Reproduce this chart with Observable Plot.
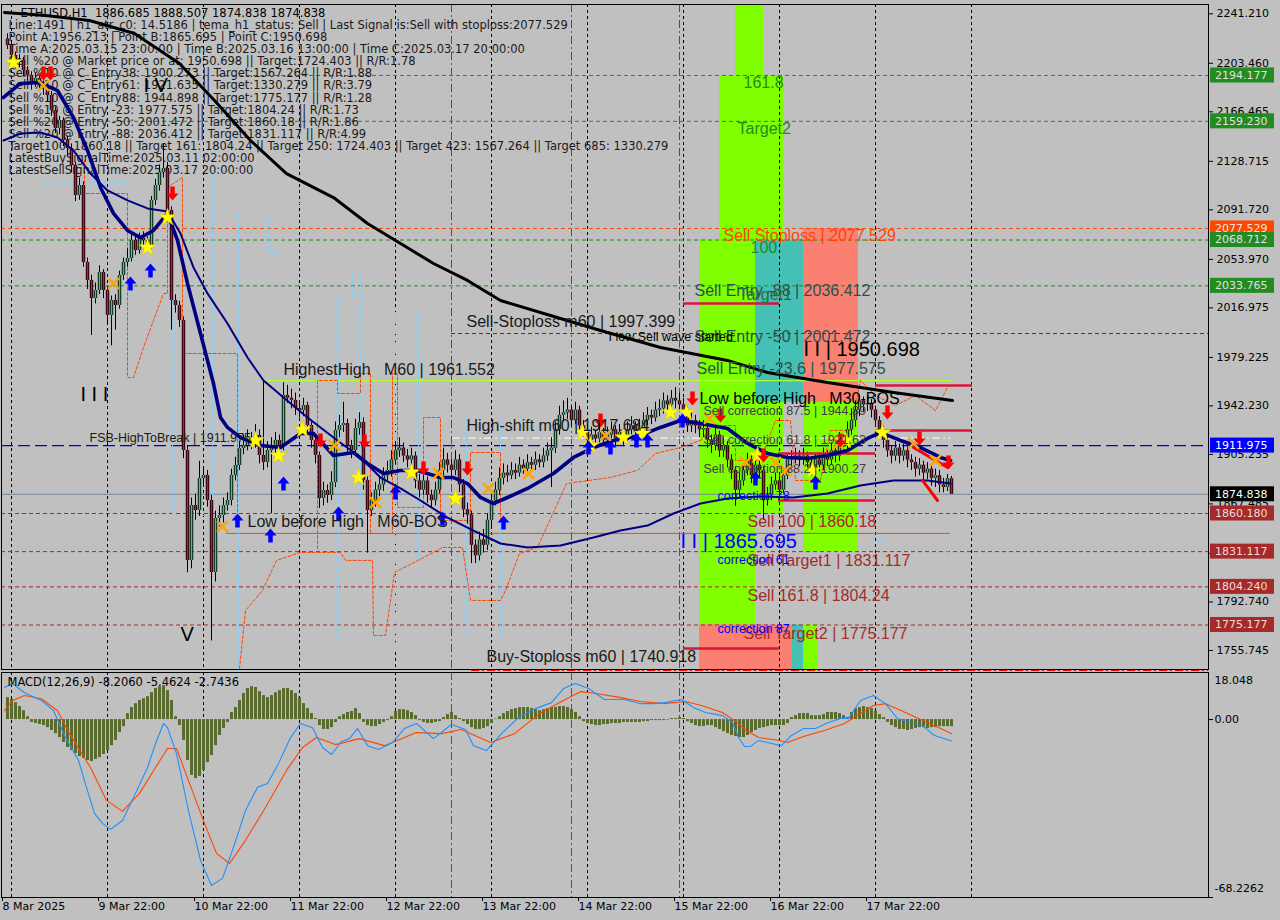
<!DOCTYPE html>
<html><head><meta charset="utf-8">
<script src="https://cdn.jsdelivr.net/npm/d3@7"></script>
<script src="https://cdn.jsdelivr.net/npm/@observablehq/plot@0.6"></script>
<style>
html,body{margin:0;padding:0;background:#c0c0c0;width:1280px;height:920px;overflow:hidden}
#chart svg{display:block;background:transparent}
</style></head><body><div id="chart"></div>
<script>
// ---------------- DATA ----------------
const firstOpen = 2222;
const closes = [
2217.0,2209.4,2204.1,2205.6,2198.0,2194.2,2188.8,2191.9,2186.5,2184.3,
2178.9,2167.5,2153.7,2159.9,2144.6,2138.5,2125.5,2102.7,2110.3,2051.6,
2037.9,2024.1,2030.2,2044.0,2030.2,2011.2,2022.6,2018.8,2041.7,2051.6,
2054.6,2068.4,2060.7,2069.9,2068.4,2064.5,2098.9,2110.3,2120.2,2123.2,
2091.2,2022.6,2018.8,2007.4,1908.2,1824.4,1866.3,1862.5,1886.9,1889.2,
1870.1,1815.2,1856.4,1858.7,1866.3,1870.1,1889.2,1896.8,1909.7,1912.0,
1915.9,1914.3,1919.7,1904.4,1899.1,1908.2,1909.7,1915.9,1912.0,1950.2,
1948.0,1946.4,1940.3,1938.7,1942.5,1927.3,1915.9,1904.4,1871.6,1877.7,
1873.9,1883.8,1923.5,1927.3,1928.8,1912.0,1908.2,1925.0,1929.6,1885.4,
1862.5,1870,1878,1882,1889,1893,1901,1908,1910,1904,
1901,1904,1885,1878,1885,1874,1870,1878,1893,1901,
1897,1893,1901,1882,1863,1859,1836,1828,1840,1836,
1855,1870,1878,1887,1891,1889,1893,1891,1897,1894,
1899,1897,1901,1899,1904,1908,1910,1924,1935,1937,
1939,1931,1939,1927,1924,1916,1920,1917,1922,1916,
1920,1924,1917,1922,1916,1924,1927,1922,1925,1931,
1935,1933,1939,1940,1946,1943,1948,1946,1943,1939,
1927,1931,1927,1924,1925,1916,1912,1920,1908,1912,
1901,1893,1878,1885,1893,1901,1889,1897,1893,1870,
1874,1882,1885,1878,1889,1901,1902,1904,1901,1904,
1899,1894,1901,1897,1904,1901,1908,1904,1916,1912,
1924,1931,1939,1946,1943,1944,1939,1931,1924,1916,
1908,1904,1910,1904,1908,1901,1899,1894,1897,1891,
1894,1887,1889,1882,1880,1886.685,1874.838];
const highs = [
2226,2220,2212,2210,2208,2201,2197,2196,2195,2190,
2188,2182,2170,2163,2162,2148,2142,2128,2116,2113,
2055,2042,2036,2049,2046,2033,2026,2027,2045,2055,
2062,2075,2072,2074,2075,2071,2102,2115,2126,2142,
2128,2094,2027,2022,2010,1912,1872,1875,1900,1896,
1893,1874,1862,1866,1872,1876,1894,1903,1915,1920,
1924,1922,1928,1924,1961.5,1915,1918,1922,1920,1960,
1958,1955,1952,1946,1948,1945,1930,1919,1907,1884,
1882,1892,1930,1935,1945,1932,1916,1932,1937,1933,
1888,1876,1884,1888,1895,1900,1908,1915,1918,1914,
1909,1910,1907,1890,1891,1888,1878,1884,1899,1910,
1906,1901,1908,1905,1886,1868,1862,1840,1846,1848,
1860,1875,1884,1895,1898,1897,1899,1898,1903,1901,
1905,1903,1907,1905,1910,1914,1918,1930,1942,1946,
1948,1942,1945,1942,1931,1927,1926,1924,1928,1925,
1926,1930,1927,1928,1925,1930,1934,1930,1932,1937,
1941,1939,1945,1947,1952,1950,1954,1956.2,1952,1948,
1942,1937,1935,1931,1931,1929,1920,1926,1923,1918,
1915,1905,1896,1891,1898,1906,1904,1902,1900,1896,
1880,1888,1891,1889,1895,1906,1908,1910,1908,1910,
1907,1902,1906,1905,1910,1908,1914,1912,1922,1920,
1930,1940,1946,1950.7,1949,1950,1947,1942,1934,1927,
1920,1912,1915,1913,1913,1911,1905,1903,1902,1900,
1899,1897,1894,1893,1887,1890,1888.507];
const lows = [
2214,2205,2199,2200,2193,2190,2183,2185,2182,2179,
2174,2163,2150,2149,2140,2133,2120,2098,2099,2048,
2031,1996,2020,2027,2024,2004,1988,2000,2016,2038,
2048,2052,2057,2058,2063,2060,2062,2095,2106,2116,
2086,2000,2013,2002,1902,1815,1818,1855,1858,1880,
1865,1763,1808,1850,1853,1862,1866,1885,1893,1905,
1908,1909,1910,1898,1893,1895,1860,1905,1906,1908,
1944,1940,1935,1933,1934,1920,1910,1898,1864,1866,
1868,1870,1880,1918,1922,1906,1902,1905,1920,1878,
1830,1858,1865,1873,1877,1885,1888,1897,1903,1899,
1895,1896,1879,1872,1874,1868,1864,1866,1875,1889,
1891,1887,1889,1876,1857,1852,1822,1822,1824,1830,
1832,1850,1866,1874,1882,1884,1886,1886,1888,1890,
1891,1893,1893,1895,1895,1900,1880,1906,1920,1930,
1932,1926,1928,1922,1918,1911,1912,1912,1914,1911,
1913,1917,1912,1914,1911,1913,1920,1917,1918,1921,
1927,1928,1930,1934,1936,1938,1939,1940,1938,1934,
1922,1922,1921,1918,1918,1910,1906,1908,1903,1903,
1895,1886,1865.7,1872,1881,1889,1883,1885,1888,1855,
1866,1870,1878,1873,1875,1886,1896,1898,1896,1897,
1894,1889,1890,1892,1893,1896,1897,1899,1900,1906,
1908,1920,1926,1934,1937,1938,1933,1926,1918,1910,
1903,1898,1900,1898,1900,1895,1893,1888,1889,1885,
1886,1881,1880,1876,1876,1877,1874.838];

// moving averages: [bar, price]
const maSlow = [[-0.75,2242.2],[9.5,2239.9],[20.5,2236.1],[31.75,2226.2],[43,2203.3],[51.75,2175.1],[60.75,2144.6],[69.75,2119.4],[81.5,2101.1],[90,2081.3],[98.25,2066.1],[106.5,2050.8],[115,2037.9],[123.25,2022.6],[135.75,2011.2],[148.25,1999.7],[163.25,1986.8],[180,1976.9],[190,1967.7],[205,1960.1],[221.5,1952.4],[236.25,1946.4]];
const maFast = [[-1,2177.4],[3.25,2188.1],[8.25,2188.8],[12.5,2182.7],[16.5,2162.1],[20,2137.0],[23.25,2108.8],[26.5,2089.0],[30,2076.0],[33.25,2070.6],[36.5,2076.0],[40,2089.0],[42.5,2068.4],[45,2035.6],[48.25,1997.4],[51.5,1959.3],[53.25,1933.4],[55,1925.8],[58.25,1918.1],[63.25,1912.0],[68.25,1910.5],[73.25,1921.2],[76.5,1921.2],[81.5,1904.4],[86.5,1906.7],[90,1898.3],[94,1890.7],[98.25,1893.0],[102.5,1893.0],[108.25,1887.6],[111.5,1887.6],[115,1883.0],[118.25,1872.4],[121.5,1867.8],[125,1872.4],[130,1879.3],[136.5,1890.7],[141.5,1902.9],[146.5,1910.5],[151.5,1915.9],[158.25,1919.7],[163.25,1925.8],[168.25,1931.1],[173.25,1928.8],[180,1925.0],[185,1913.6],[190,1906.0],[195,1902.9],[200,1902.1],[205,1904.4],[210,1908.2],[215,1917.4],[218.25,1921.9],[223.25,1915.9],[228.25,1910.5],[233.25,1902.9],[235.75,1900.6]];
const maMid = [[-1,2144.6],[3.25,2149.9],[8.25,2150.7],[12.5,2146.9],[16.5,2137.0],[20.75,2119.4],[25,2106.5],[30,2098.9],[35,2092.8],[40,2090.5],[43.25,2073.7],[46.5,2047.8],[50,2028.0],[55,2005.1],[60,1979.1],[64,1961.6],[69,1948.6],[75,1933.4],[81.5,1918.1],[88.25,1902.9],[93.25,1887.6],[98.25,1879.3],[103.25,1870.1],[110,1857.1],[116.5,1847.2],[123.25,1837.3],[130,1834.3],[138.25,1835.8],[146.5,1841.9],[153.25,1847.2],[160,1851.0],[166.5,1860.2],[173.25,1867.8],[180,1871.6],[188.25,1873.2],[196.5,1872.4],[205,1875.4],[213.25,1881.5],[221.5,1885.4],[230,1885.4],[235.75,1883.0]];

// stepped dashed indicator lines
const orangePaths = [
 [[19.25,2129.4],[19.25,2104.2],[30,2104.2],[30,1963.9],[31.5,1963.9],[34,1986.8],[36.5,2007.4],[39,2027.9],[40,2027.9],[40,2108.8],[43.75,2116.4],[43.75,1982.2],[57.5,1982.2],[57.5,1854.9]],
 [[58,1742.0],[59.5,1786.2],[63.75,1801.5],[67.25,1824.4],[73.25,1830.5],[83.25,1830.5],[84.5,1824.4],[91.25,1824.4],[91.5,1767.2],[94.5,1767.2],[96.75,1815.2],[104,1826.6],[108.75,1834.3],[113.75,1834.3],[115.75,1793.9],[123.25,1793.9],[124.5,1801.5],[128,1829.7],[132.5,1834.3],[139.75,1883.0],[150.5,1887.6],[157.5,1893.0],[162,1905.9],[168.25,1910.5],[173.25,1915.9]],
 [[77.5,1833.5],[77.5,1961.6],[82.5,1961.6],[82.5,1951.7],[88.25,1951.7],[88.25,1967.0],[90.75,1967.0],[90.75,1844.9],[96.25,1844.9],[96.25,1967.0],[97.5,1967.0],[97.5,1864.8],[104,1864.8],[104,1933.4],[108.25,1933.4],[108.25,1854.9],[115.75,1854.9],[115.75,1906.7],[123.25,1906.7],[123.25,1854.9]],
 [[173.25,1915.9],[176.25,1927.3],[182,1927.3],[182,1900.6],[188.25,1900.6],[192,1931.1],[195.75,1931.1],[197,1885.4],[203.25,1885.4],[205.75,1923.5],[210.75,1923.5],[213.25,1961.6],[217,1950.2],[222,1942.5],[227,1950.2],[232,1938.7],[235.25,1957.8]]
];
const bluePaths = [
 [[9,2104.2],[9,2112.6],[30,2112.6],[30,2124.0]],
 [[41.25,2077.5],[41.25,1858.7],[51.25,1858.7],[51.25,2124.0]],
 [[57.75,1742.0],[57.75,2088.9],[65.25,2088.9],[65.25,2059.2],[68.5,2059.2],[68.5,2096.6],[77,2096.6],[77,1854.9]],
 [[82.75,1763.4],[82.75,2024.9],[86.25,2024.9],[86.25,2043.2],[88.25,2043.2],[88.25,1854.9]],
 [[97,1755.7],[97,2017.3],[102.75,2017.3],[102.75,1824.4]],
 [[114.75,1931.1],[114.75,1765.6],[123.25,1765.6],[123.25,1931.1]],
 [[216.5,1997.4],[216.5,1839.6],[220,1839.6]],
 [[227.5,1857.1],[235,1857.1],[235,1814.4],[227.5,1814.4]]
];

// zones: [bar1, bar2, price1, price2, color]
const zones = [
 [182,189,2194.177,2260,"#7FFF00"],
 [178,194,2068.712,2194.177,"#7FFF00"],
 [173,187,1775.177,2068.712,"#7FFF00"],
 [187,199,1944.898,2068.712,"#45C0B5"],
 [199,212.75,1944.898,2077.529,"#FA8072"],
 [187,194,1860.18,1944.898,"#7FFF00"],
 [199,212.75,1831.117,1944.898,"#7FFF00"],
 [173,196.25,1740.918,1775.177,"#FA8072"],
 [196.25,199,1740.918,1775.177,"#45C0B5"],
 [199,202.75,1740.918,1775.177,"#7FFF00"]
];

// horizontal levels: [price, fromBar, toBar, color, dash, width]
const levels = [
 [2194.177,null,null,"#228B22","4,3",1],
 [2159.230,null,null,"#228B22","4,3",1],
 [2068.712,null,null,"#228B22","4,3",1],
 [2033.765,null,null,"#228B22","4,3",1],
 [2077.529,null,null,"#FF4500","4,3",1],
 [1997.399,111,300.25,"#C00000","4,3",1],
 [1860.18,null,null,"#A52A2A","4,3",1],
 [1831.117,null,null,"#A52A2A","4,3",1],
 [1804.24,null,null,"#A52A2A","4,3",1],
 [1775.177,null,null,"#A52A2A","4,3",1],
 [1911.975,null,null,"#0000CD","12,5",1.3],
 [1874.838,null,null,"#778899",null,1],
 [1917.684,111.25,235.75,"#FFFFFF","8,3,2,3",1],
 [1961.552,64,236,"#ADFF2F",null,1.2],
 [1845.0,54.75,235.75,"#FF4500",null,1],
 [1740.918,116,300.25,"#FF0000","8,3,2,3",2]
];
const redSegments = [[2020.3,169,193],[1957.8,217,241.25],[1923.5,217,241.25],[1906.0,192.75,217],[1870.1,192.75,217],[1757.2,169,193]];
const trendSegments = [[[226.5,1910.5],[235,1895.3]],[[228.75,1885.4],[232.5,1870.1]]];

// signal markers [bar, price]
const stars = [[1.5,2204.1],[35,2063.0],[40,2085.9],[62,1915.9],[67.75,1904.4],[73.75,1924.2],[87.75,1887.6],[101,1891.5],[112,1871.6],[143.75,1922],[145.75,1912],[154,1918.1],[158.75,1921.2],[165.75,1937.2],[169.75,1937.2],[187.5,1904.4],[201.25,1893.0],[209.5,1915.9],[218.75,1921.9]];
const downArrows = [[9,2195.7],[10.75,2195.7],[41.25,2104.2],[78.25,1915.9],[89.25,1915.1],[104,1894.5],[115,1894.5],[148.25,1931.1],[171.25,1947.9],[178.25,1934.9],[189,1904.4],[208.25,1915.9],[220,1937.2],[228,1917.4],[235.25,1899.1]];
const upArrows = [[30.75,2035.6],[35.75,2045.5],[57.5,1854.9],[65.75,1843.4],[69,1883.0],[82.75,1860.2],[97,1876.2],[108.75,1856.4],[124,1853.3],[145.25,1910.5],[150.75,1910.5],[157.25,1915.9],[160,1915.9],[168.75,1931.1],[187,1886.9],[202,1883.8]];
const crosses = [[9,2186.5],[26.5,2035.6],[53.75,1850.3],[81.75,1912.0],[92,1868.6],[107.75,1890.7],[120.25,1879.2],[130.25,1890.7],[149.5,1919.7],[175.5,1932.6],[184.5,1899.1],[192,1899.1],[194.5,1893.0],[207.75,1913.6],[226.5,1913.6],[232,1900.6]];

// chart labels [bar, price, text, color]
const labels16 = [
 [69,1970.0,"HighestHigh   M60 | 1961.552","#1a1a1a"],
 [114.75,2006.6,"Sell-Stoploss m60 | 1997.399","#1a1a1a"],
 [114.75,1927.3,"High-shift m60 | 1917.684","#1a1a1a"],
 [60,1854.1,"Low before High   M60-BOS","#1a1a1a"],
 [173,1947.9,"Low before High   M30-BOS","#000000"],
 [119.75,1751.1,"Buy-Stoploss m60 | 1740.918","#1a1a1a"],
 [171.75,2030.2,"Sell Entry -88 | 2036.412","#2F4F4F"],
 [182.75,2027.2,"Target1","#2E6B3A"],
 [171.75,1995.1,"Sell Entry -50 | 2001.472","#2F4F4F"],
 [172.25,1970.8,"Sell Entry -23.6 | 1977.575","#2F4F4F"],
 [179,2072.2,"Sell Stoploss | 2077.529","#FF4500"],
 [185.75,2063.0,"100","#228B22"],
 [184,2188.8,"161.8","#228B22"],
 [182.5,2153.7,"Target2","#228B22"],
 [185,1854.1,"Sell 100 | 1860.18","#A52A2A"],
 [185,1824.4,"Sell Target1 | 1831.117","#A52A2A"],
 [185,1797.7,"Sell 161.8 | 1804.24","#A52A2A"],
 [184,1768.7,"Sell Target2 | 1775.177","#A52A2A"]
];
const labels12 = [
 [20.5,1917.4,"FSB-HighToBreak | 1911.975","#1a1a1a"],
 [174,1938.7,"Sell correction 87.5 | 1944.89","#404040"],
 [174,1915.9,"Sell correction 61.8 | 1921.63","#404040"],
 [174,1894.5,"Sell correction 38.2 | 1900.27","#404040"],
 [177.5,1873.2,"correction 78","#0000FF"],
 [177.5,1824.4,"correction 61","#0000FF"],
 [177.5,1772.5,"correction 87","#0000FF"],
 [150.25,1994.4,"I low Sell wave started","#000000"]
];
const labels20 = [
 [199,1985.2,"I I | 1950.698","#000000"],
 [168.25,1838.8,"I I | 1865.695","#0000FF"],
 [18.25,1950.9,"I I I","#000000"],
 [43.25,1767.9,"V","#000000"],
 [34,2186.5,"I V","#000000"]
];

const title = "ETHUSD,H1  1886.685 1888.507 1874.838 1874.838";
const infoLines = [
 "Line:1491 | h1_atr_c0: 14.5186 | tema_h1_status: Sell | Last Signal is:Sell with stoploss:2077.529",
 "Point A:1956.213 | Point B:1865.695 | Point C:1950.698",
 "Time A:2025.03.15 23:00:00 | Time B:2025.03.16 13:00:00 | Time C:2025.03.17 20:00:00",
 "Sell %20 @ Market price or at: 1950.698 || Target:1724.403 || R/R:1.78",
 "Sell %10 @ C_Entry38: 1900.273 || Target:1567.264 || R/R:1.88",
 "Sell %10 @ C_Entry61: 1921.635 || Target:1330.279 || R/R:3.79",
 "Sell %10 @ C_Entry88: 1944.898 || Target:1775.177 || R/R:1.28",
 "Sell %10 @ Entry -23: 1977.575 || Target:1804.24 || R/R:1.73",
 "Sell %20 @ Entry -50: 2001.472 || Target:1860.18 || R/R:1.86",
 "Sell %20 @ Entry -88: 2036.412 || Target:1831.117 || R/R:4.99",
 "Target100: 1860.18 || Target 161: 1804.24 || Target 250: 1724.403 || Target 423: 1567.264 || Target 685: 1330.279",
 "LatestBuySignalTime:2025.03.11 02:00:00",
 "LatestSellSignalTime:2025.03.17 20:00:00"
];

// axes
const priceRange = [1741.24, 2248.30];
const priceTicks = [2241.210,2203.460,2166.465,2128.715,2091.720,2053.970,2016.975,1979.225,1942.230,1905.235,1867.485,1829.740,1792.740,1755.745];
const priceBoxes = [
 [2194.177,"#228B22","#E0E0E0"],[2159.230,"#228B22","#E0E0E0"],[2077.529,"#FF4500","#F4E4DC"],
 [2068.712,"#228B22","#E0E0E0"],[2033.765,"#228B22","#E0E0E0"],[1911.975,"#0000FF","#FFFFFF"],
 [1874.838,"#000000","#FFFFFF"],[1860.180,"#A52A2A","#F2DADA"],[1831.117,"#A52A2A","#F2DADA"],
 [1804.240,"#A52A2A","#F2DADA"],[1775.177,"#A52A2A","#F2DADA"]
];
const barDomain = [-1.5, 300.25];
const gridBars = [1,25,49,73,97,121,145,169,193,217,241];
const magentaBars = [111,141,168];
const cyanBars = [51];
const dateBars = [-1.25,22.75,46.75,70.75,94.75,118.75,142.75,166.75,190.75,214.75];
const dateLabels = ["8 Mar 2025","9 Mar 22:00","10 Mar 22:00","11 Mar 22:00","12 Mar 22:00","13 Mar 22:00","14 Mar 22:00","15 Mar 22:00","16 Mar 22:00","17 Mar 22:00"];

// MACD
const macdTitle = "MACD(12,26,9) -8.2060 -5.4624 -2.7436";
const macdRange = [-68.2262, 18.048];
const macdHist = [
8.4,7.7,6.5,5.0,3.4,1.1,-1.1,-1.5,-1.9,-2.3,
-3.1,-4.2,-5.4,-6.9,-8.8,-10.7,-11.9,-13.0,-14.2,-14.9,
-15.7,-16.1,-15.3,-14.6,-13.4,-11.9,-10.0,-8.0,-5.0,-2.7,
2.3,4.6,6.1,7.3,8.0,8.8,10.3,11.9,12.6,13.0,
11.1,7.3,1.1,-2.3,-8.0,-15.7,-21.4,-22.6,-21.8,-19.5,
-16.5,-13.8,-10.0,-6.1,-3.4,-1.1,2.7,4.6,7.3,10.0,
11.9,12.6,12.3,10.7,9.2,8.4,9.2,10.3,11.1,11.9,
11.9,11.1,10.0,8.4,6.1,4.2,2.3,0.4,-2.3,-3.8,
-3.8,-3.1,-1.1,1.1,1.9,2.7,3.1,4.2,2.3,-1.1,
-2.3,-2.7,-2.7,-1.9,-1.1,-0.4,1.1,3.1,3.8,3.8,
3.4,2.7,1.5,-0.4,-1.1,-1.5,-1.5,-1.1,-0.8,0.8,
1.9,2.7,1.5,0.4,-0.8,-1.9,-3.1,-3.8,-3.8,-3.4,
-2.7,-1.5,0.2,1.1,2.3,3.1,3.8,4.2,4.6,4.6,
4.6,4.2,3.8,3.4,3.8,4.2,4.6,4.6,5.0,5.0,
4.6,3.8,2.7,1.1,-0.8,-1.5,-1.9,-2.3,-2.3,-1.9,
-1.9,-1.5,-1.5,-1.5,-1.1,-1.1,-1.1,-1.1,-1.1,-0.8,
-0.8,-0.4,-0.4,-0.4,-0.4,-0.2,0.4,0.4,0.8,0.4,
-0.8,-1.5,-2.3,-2.7,-2.7,-2.3,-2.3,-3.1,-3.8,-4.6,
-5.4,-6.1,-6.5,-6.9,-6.9,-6.1,-5.0,-4.2,-3.4,-3.1,
-2.7,-2.3,-2.3,-2.3,-2.3,-1.5,0.8,1.5,2.3,2.3,
2.3,1.5,1.5,1.5,1.9,2.7,2.7,2.7,2.3,1.5,
0.8,2.7,4.2,4.6,5.0,4.6,4.2,3.1,1.9,0.8,
-1.1,-2.3,-3.1,-3.8,-3.8,-4.2,-3.8,-3.4,-3.1,-3.1,
-3.4,-3.1,-3.1,-2.7,-2.7,-2.7,-2.7436];
const macdLine = [[-0.75,12.3],[1.25,13.8],[4.25,10.3],[8.5,7.3],[11.5,3.4],[14.5,-6.9],[17.75,-15.7],[19.75,-26.0],[21.75,-36.0],[23.75,-39.8],[25.75,-42.1],[28.75,-38.7],[32,-28.3],[35,-18.4],[37,-9.2],[39,-1.5],[40,-3.1],[42.25,-13.0],[45.25,-34.9],[48.25,-54.0],[51,-63.6],[53.75,-60.9],[56.5,-49.0],[59.5,-34.9],[62.5,-26.0],[65,-24.5],[67.75,-16.9],[70.75,-6.9],[73.25,-1.5],[76.25,-3.1],[78.75,-10.7],[81,-13.4],[83.5,-8.4],[85.5,-7.3],[87.5,-3.4],[90,-10.0],[92.75,-11.5],[96.25,-8.8],[99.25,-3.4],[102.25,-1.5],[106.5,-7.3],[111,-1.9],[114.5,-3.8],[116.5,-10.0],[119.75,-11.9],[123.75,-5.0],[127.75,0.8],[132,4.2],[136,6.5],[139,11.9],[142,13.8],[145.25,11.9],[149.25,7.7],[154.25,7.7],[158.25,6.1],[161.25,6.1],[164.25,6.5],[168.5,7.7],[171.5,4.6],[174.5,2.7],[178.75,1.5],[181.25,-1.1],[182.75,-6.9],[184.25,-10.3],[185.75,-10.3],[187.75,-8.0],[191,-9.2],[193.5,-10.0],[196,-6.1],[199,-3.4],[202,-3.4],[205.25,-1.1],[208.25,0.4],[210.25,0.4],[213.25,7.3],[216.5,9.2],[219.5,6.1],[222.5,0.4],[225.5,-1.1],[228.75,-2.3],[231.75,-6.1],[236,-8.206]];
const signalLine = [[-0.75,3.4],[1.25,7.3],[4.25,9.2],[8.5,8.0],[12.5,3.4],[15.5,-5.4],[20.75,-18.4],[24.75,-31.0],[28.75,-35.2],[33,-28.3],[37,-18.4],[40,-11.1],[42.25,-11.1],[45.25,-23.4],[49.25,-39.8],[52.25,-51.3],[55.5,-55.2],[59.5,-46.3],[64.5,-33.7],[69.75,-19.5],[73.75,-10.7],[77.25,-6.9],[82,-9.6],[88,-7.3],[94.25,-10.0],[102.25,-5.0],[108.5,-5.4],[113.5,-3.8],[120.75,-8.8],[126.75,-5.4],[133,2.3],[139,7.3],[143.25,10.7],[147.25,10.0],[153.25,8.4],[158.25,6.9],[164.25,6.1],[169.5,6.9],[173.5,5.4],[178.75,2.7],[181.75,-0.4],[184.75,-4.2],[187.75,-6.9],[193,-8.0],[195,-8.8],[199,-6.5],[204.25,-4.2],[209.25,-1.5],[213.25,2.3],[216.5,5.4],[219.5,6.1],[223.5,3.4],[227.75,0.4],[231.75,-2.3],[236,-5.4624]];

// ---------------- BUILD ----------------
const DJ = "DejaVu Sans, sans-serif";
const LS = "Liberation Sans, Arial, sans-serif";
const bars = closes.map((c, i) => ({i, o: i === 0 ? firstOpen : closes[i - 1], h: highs[i], l: lows[i], c}));
const hist = macdHist.map((v, i) => ({i, v}));
const px = d => d[0], py = d => d[1];

const arrowDown = {draw(ctx, size) { const r = Math.sqrt(size / Math.PI);
  ctx.moveTo(-0.32*r, -r); ctx.lineTo(0.32*r, -r); ctx.lineTo(0.32*r, 0); ctx.lineTo(0.85*r, 0);
  ctx.lineTo(0, r); ctx.lineTo(-0.85*r, 0); ctx.lineTo(-0.32*r, 0); ctx.closePath(); }};
const arrowUp = {draw(ctx, size) { const r = Math.sqrt(size / Math.PI);
  ctx.moveTo(-0.32*r, r); ctx.lineTo(0.32*r, r); ctx.lineTo(0.32*r, 0); ctx.lineTo(0.85*r, 0);
  ctx.lineTo(0, -r); ctx.lineTo(-0.85*r, 0); ctx.lineTo(-0.32*r, 0); ctx.closePath(); }};

const pathRows = (paths) => paths.flatMap((p, k) => p.map(pt => ({k, x: pt[0], y: pt[1]})));

const levelMarks = levels.map(([p, a, b, c, dash, w]) =>
  Plot.ruleY([p], a == null ? {stroke: c, strokeDasharray: dash, strokeWidth: w}
                            : {x1: a, x2: b, stroke: c, strokeDasharray: dash, strokeWidth: w}));

const textMark = (rows, size, font) => Plot.text(rows, {x: d => d[0], y: d => d[1], text: d => d[2], fill: d => d[3],
  textAnchor: "start", fontFamily: font, fontSize: size});

const main = Plot.plot({
  width: 1280, height: 670,
  marginLeft: 1, marginRight: 72, marginTop: 4, marginBottom: 1,
  style: {background: "transparent", fontFamily: DJ, fontSize: "11px", color: "#000", overflow: "visible"},
  x: {domain: barDomain, axis: null},
  y: {domain: priceRange, axis: "right", ticks: priceTicks, tickSize: 4, tickPadding: 4, tickFormat: d => d.toFixed(3), label: null},
  color: {type: "identity"},
  marks: [
    Plot.rect(zones, {x1: d => d[0], x2: d => d[1], y1: d => d[2], y2: d => d[3], fill: d => d[4], clip: true}),
    Plot.ruleX(gridBars, {stroke: "#000", strokeDasharray: "3,3", strokeWidth: 1}),
    Plot.ruleX(magentaBars, {stroke: "#C8107A", strokeDasharray: "8,3,2,3", strokeWidth: 1}),
    Plot.ruleX(cyanBars, {stroke: "#87CEFA", strokeDasharray: "8,3,2,3", strokeWidth: 1}),
    ...levelMarks,
    Plot.line(pathRows(bluePaths), {x: "x", y: "y", z: "k", stroke: "#87CEFA", strokeDasharray: "5,2,1,2", strokeWidth: 1, clip: true}),
    Plot.line(pathRows(orangePaths), {x: "x", y: "y", z: "k", stroke: "#FF4500", strokeDasharray: "3,2", strokeWidth: 1, clip: true}),
    Plot.text([title], {frameAnchor: "top-left", dx: 19, dy: 4, lineAnchor: "top", fontFamily: DJ, fontSize: 11.5, fill: "#000"}),
    Plot.text([infoLines.join("\n")], {frameAnchor: "top-left", dx: 7, dy: 16, lineAnchor: "top", lineHeight: 1.05, fontFamily: DJ, fontSize: 11.5, fill: "#1a1a1a"}),
    Plot.ruleX(bars, {x: "i", y1: "l", y2: "h", stroke: "#000", strokeWidth: 1}),
    Plot.ruleX(bars, {x: "i", y1: "o", y2: "c", stroke: "#000", strokeWidth: 3.4}),
    Plot.ruleX(bars, {x: "i", y1: "o", y2: "c", stroke: d => d.c >= d.o ? "#3CCB7F" : "#D0143C", strokeWidth: 1.6}),
    Plot.ruleY(redSegments, {y: d => d[0], x1: d => d[1], x2: d => d[2], stroke: "#DC143C", strokeWidth: 2.5}),
    Plot.line(maSlow, {x: px, y: py, stroke: "#000", strokeWidth: 3, clip: true}),
    Plot.line(maMid, {x: px, y: py, stroke: "#000080", strokeWidth: 2, clip: true}),
    Plot.line(maFast, {x: px, y: py, stroke: "#000080", strokeWidth: 3.6, clip: true}),
    ...trendSegments.map(s => Plot.line(s, {x: px, y: py, stroke: "#FF0000", strokeWidth: 3})),
    Plot.dot(crosses, {x: px, y: py, symbol: "times", r: 5, stroke: "#FFA500", strokeWidth: 2.5}),
    Plot.dot(stars, {x: px, y: py, symbol: "star", r: 5.5, fill: "#FFFF00", stroke: "#E0C000", strokeWidth: 0.5}),
    Plot.dot(downArrows, {x: px, y: py, symbol: arrowDown, r: 7, fill: "#FF0000"}),
    Plot.dot(upArrows, {x: px, y: py, symbol: arrowUp, r: 7, fill: "#0000FF"}),
    textMark(labels16, 16, LS),
    textMark(labels12, 12.5, LS),
    textMark(labels20, 20, LS),
    Plot.frame({stroke: "#000"})
  ]
});

// right-axis price boxes (positioned with the plot's own y scale)
const ys = main.scale("y");
const gb = d3.select(main).append("g").attr("font-family", DJ).attr("font-size", 11).attr("text-anchor", "start");
for (const [v, bg, fg] of priceBoxes) {
  const y = ys.apply(v);
  gb.append("rect").attr("x", 1210).attr("y", y - 7.5).attr("width", 64).attr("height", 15).attr("fill", bg);
  gb.append("text").attr("x", 1215).attr("y", y).attr("dy", "0.36em").attr("text-anchor", "start").attr("fill", fg).text(v.toFixed(3));
}

const macd = Plot.plot({
  width: 1280, height: 250,
  marginLeft: 1, marginRight: 72, marginTop: 2, marginBottom: 23,
  style: {background: "transparent", fontFamily: DJ, fontSize: "11px", color: "#000", overflow: "visible"},
  x: {domain: barDomain, axis: "bottom", ticks: dateBars, tickSize: 4, tickFormat: () => "", label: null},
  y: {domain: macdRange, axis: "right", ticks: [0, macdRange[0]], tickSize: 4, tickFormat: () => "", label: null},
  marks: [
    Plot.ruleX(gridBars, {stroke: "#000", strokeDasharray: "3,3", strokeWidth: 1}),
    Plot.ruleX(magentaBars, {stroke: "#C8107A", strokeDasharray: "8,3,2,3", strokeWidth: 1}),
    Plot.ruleX(cyanBars, {stroke: "#87CEFA", strokeDasharray: "8,3,2,3", strokeWidth: 1}),
    Plot.ruleX(hist, {x: "i", y1: 0, y2: "v", stroke: "#5A6B2F", strokeWidth: 3}),
    Plot.line(signalLine, {x: px, y: py, stroke: "#FF4500", strokeWidth: 1.1}),
    Plot.line(macdLine, {x: px, y: py, stroke: "#1E90FF", strokeWidth: 1.1}),
    Plot.text([macdTitle], {frameAnchor: "top-left", dx: 6, dy: 5, lineAnchor: "top", fontFamily: DJ, fontSize: 11.5, fill: "#000"}),
    Plot.text([macdRange[1]], {y: d => d, text: d => d.toFixed(3), frameAnchor: "right", dx: 6, dy: 8, textAnchor: "start", fontFamily: DJ, fontSize: 11}),
    Plot.text([0], {y: d => d, text: d => d.toFixed(2), frameAnchor: "right", dx: 6, textAnchor: "start", fontFamily: DJ, fontSize: 11}),
    Plot.text([macdRange[0]], {y: d => d, text: d => d.toFixed(4), frameAnchor: "right", dx: 6, dy: -9, textAnchor: "start", fontFamily: DJ, fontSize: 11}),
    Plot.text(dateBars, {x: d => d, text: (d, i) => dateLabels[i], frameAnchor: "bottom", dy: 12, textAnchor: "start", fontFamily: DJ, fontSize: 11}),
    Plot.frame({stroke: "#000"})
  ]
});

const host = document.getElementById("chart");
host.appendChild(main);
host.appendChild(macd);
</script></body></html>
